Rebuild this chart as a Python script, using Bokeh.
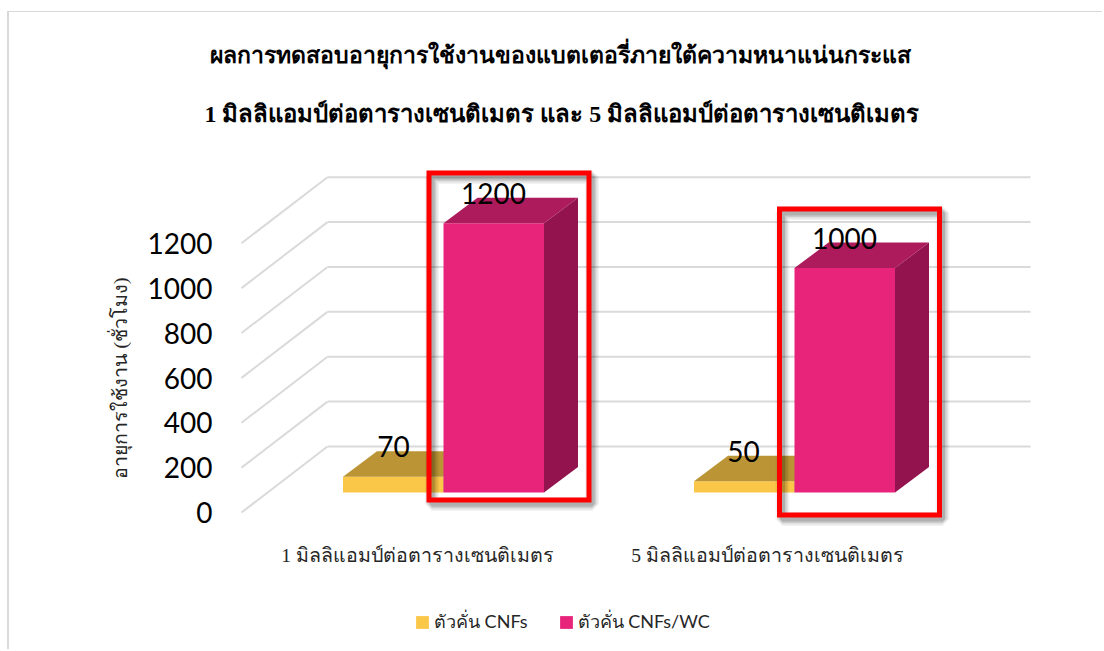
from bokeh.plotting import figure
from bokeh.models import Range1d, LinearAxis, FixedTicker, Legend, LegendItem, Title
from bokeh.core.properties import value
from bokeh.embed import file_html
from bokeh.resources import INLINE

TITLE_1 = "ผลการทดสอบอายุการใช้งานของแบตเตอรี่ภายใต้ความหนาแน่นกระแส"
TITLE_2 = "1 มิลลิแอมป์ต่อตารางเซนติเมตร และ 5 มิลลิแอมป์ต่อตารางเซนติเมตร"
Y_LABEL = "อายุการใช้งาน (ชั่วโมง)"
categories = ["1 มิลลิแอมป์ต่อตารางเซนติเมตร", "5 มิลลิแอมป์ต่อตารางเซนติเมตร"]
series_names = ["ตัวคั่น CNFs", "ตัวคั่น CNFs/WC"]
cnf_values = [70, 50]
cnf_wc_values = [1200, 1000]
y_ticks = [0, 200, 400, 600, 800, 1000, 1200]

OX, OY = 9, 12                              # where the canvas starts in the window
W, H = 1095, 638
F_L, F_R, F_T, F_B = 222, 1096, 150, 648    # frame in window px
PX = 0.2244                                 # px per value unit
BASE = 492                                  # window y of value 0 on the bar plane
DX, DY = 34, 25.5                           # 3D depth
BAR_W = 100.5
GROUP_X = [443, 794]                        # left edge of the pink bar in each group

THAI = "Liberation Serif"
DIGIT = "Lato"


def v_of(py):
    return (BASE - py) / PX


p = figure(width=W, height=H, output_backend="svg", toolbar_location=None,
           x_range=Range1d(F_L, F_R), y_range=Range1d(v_of(F_B), v_of(F_T)),
           min_border_left=F_L - OX, min_border_right=OX + W - F_R,
           min_border_top=F_T - OY, min_border_bottom=OY + H - F_B,
           x_axis_type=None, y_axis_type=None,
           styles={"margin-left": "7px", "margin-top": "11px",
                   "border-left": "2px solid #d9d9d9", "border-top": "1px solid #d9d9d9"})
p.outline_line_color = None
p.grid.visible = False
p.title.visible = False

# tick axis: its own range places the labels on the front plane
TICK_PX = 0.2238
p.extra_y_ranges["ticks"] = Range1d((512 - F_B) / TICK_PX, (512 - F_T) / TICK_PX)
yax = LinearAxis(y_range_name="ticks", ticker=FixedTicker(ticks=y_ticks),
                 axis_line_color=None, major_tick_line_color=None, minor_tick_line_color=None,
                 major_label_text_font=DIGIT, major_label_text_font_size="28px",
                 major_label_text_color="#000000", major_label_standoff=4)
p.add_layout(yax, "left")
p.add_layout(Title(text=Y_LABEL, align="left", offset=F_B - 478, standoff=28, text_font=THAI,
                   text_font_size="19.6px", text_font_style="normal", text_color="#262626"), "left")

# category axis: labels pulled up into the frame, legend sits below them
tick_x = [417, 767]
xax = LinearAxis(ticker=FixedTicker(ticks=tick_x), axis_line_color=None,
                 major_tick_line_color=None, minor_tick_line_color=None,
                 major_label_overrides=dict(zip(tick_x, categories)),
                 major_label_text_font=THAI, major_label_text_font_size="19.6px",
                 major_label_text_color="#262626", major_label_standoff=-(F_B - 538))
p.add_layout(xax, "below")

# grid: back wall + side-wall diagonals
grid_c = "#dadada"
FRONT_L, BACK_L, BACK_R = 241, 327, 1030
back = [v_of(446 - t * PX) for t in y_ticks]
front = [v_of(512 - t * PX) for t in y_ticks]
n = len(y_ticks)
p.segment([BACK_L] * n, back, [BACK_R] * n, back, line_color=grid_c, line_width=2)
p.segment([FRONT_L] * n, front, [BACK_L] * n, back, line_color=grid_c, line_width=2)


def draw_bar(x0, x1, v, front_c, top_c, side_c):
    dv = DY / PX
    r = p.quad(left=[x0], right=[x1], bottom=[0], top=[v], fill_color=front_c, line_color=None)
    p.patch([x0, x0 + DX, x1 + DX, x1], [v, v + dv, v + dv, v], fill_color=top_c, line_color=None)
    p.patch([x1, x1 + DX, x1 + DX, x1], [0, dv, v + dv, v], fill_color=side_c, line_color=None)
    return r


yellow = [draw_bar(g - BAR_W, g, v, "#fbc748", "#bb9535", "#bb9535") for g, v in zip(GROUP_X, cnf_values)]
pink = [draw_bar(g, g + BAR_W, v, "#e8247a", "#ae1b5c", "#93134e") for g, v in zip(GROUP_X, cnf_wc_values)]

# red annotation boxes with soft shadow
boxes = [(428.5, 588.5, 172.5, 499.5), (779, 939, 208.5, 514.5)]
for l, r, t, b in boxes:
    for w, a in [(14, .05), (11, .07), (8, .09), (5, .13)]:
        p.quad(left=[l + 3], right=[r + 3], top=[v_of(t + 4)], bottom=[v_of(b + 4)],
               fill_color=None, line_color="#000000", line_alpha=a, line_width=w)
for l, r, t, b in boxes:
    p.quad(left=[l], right=[r], top=[v_of(t)], bottom=[v_of(b)],
           fill_color=None, line_color="#ff0000", line_width=5, line_join="miter")

# data labels
label_x = [393, 743, 493, 844]
label_vals = cnf_values + cnf_wc_values
label_off = [446, 451, 193, 238]
p.text(label_x, [v_of(o) for o in label_off], text=[str(v) for v in label_vals],
       text_font=value(DIGIT), text_font_size=value("28px"), text_color="#000000",
       text_align="center", text_baseline="middle")

# chart title, two lines, nearest the frame first
for txt, left, size, stand in [(TITLE_2, 204, "23.9px", 48), (TITLE_1, 209, "23px", 14)]:
    p.add_layout(Title(text=txt, align="left", offset=left - F_L, standoff=stand, text_font=THAI,
                       text_font_size=size, text_font_style="bold", text_color="#000000"), "above")

legend = Legend(items=[LegendItem(label=series_names[0], renderers=[yellow[0]]),
                       LegendItem(label=series_names[1], renderers=[pink[0]])],
                orientation="horizontal", location=(414 - F_L, F_B - 636), background_fill_alpha=0,
                border_line_color=None, glyph_width=16, glyph_height=16, label_standoff=4,
                label_text_font=DIGIT, label_text_font_size="18px", label_text_color="#262626",
                spacing=30, margin=0, padding=0)
p.add_layout(legend)

open("out.html", "w").write(file_html(p, INLINE))
